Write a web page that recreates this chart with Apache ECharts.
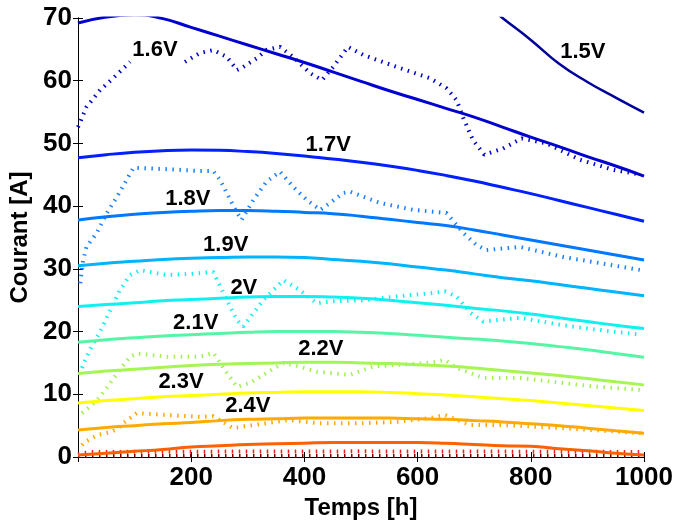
<!DOCTYPE html>
<html>
<head>
<meta charset="utf-8">
<script src="https://cdn.jsdelivr.net/npm/echarts@6/dist/echarts.min.js"></script>
<style>
html,body{margin:0;padding:0;background:#fff;}
#chart{width:675px;height:521px;}
</style>
</head>
<body>
<div id="chart"></div>
<script>
// ---- data ----
var xTicks = [0, 200, 400, 600, 800, 1000];
var yTicks = [0, 10, 20, 30, 40, 50, 60, 70];
var hours = [0, 50, 100, 150, 200, 250, 300, 350, 400, 450, 500, 550, 600, 650, 700, 750, 800, 850, 900, 950, 1000];

// solid model curves (Courant [A]) at the hours above
var v15 = [[740, 70.8], [750, 70.0], [800, 66.5], [850, 62.7], [900, 59.8], [950, 57.3], [1000, 54.9]];
var v16 = [69.2, 70.15, 70.5, 69.9, 68.5, 67.1, 65.7, 64.3, 62.9, 61.4, 59.9, 58.4, 57.0, 55.6, 54.2, 52.6, 51.0, 49.5, 47.9, 46.4, 44.8];
var v17 = [47.7, 48.2, 48.6, 48.85, 48.95, 48.9, 48.7, 48.4, 48.0, 47.5, 47.0, 46.4, 45.7, 44.9, 44.0, 43.0, 42.0, 40.9, 39.8, 38.7, 37.6];
var v18 = [37.8, 38.3, 38.7, 39.0, 39.2, 39.3, 39.3, 39.2, 39.0, 38.8, 38.4, 37.9, 37.4, 36.9, 36.2, 35.4, 34.6, 33.8, 33.0, 32.2, 31.4];
var v19 = [30.5, 30.9, 31.2, 31.5, 31.7, 31.8, 31.9, 31.9, 31.8, 31.5, 31.2, 30.8, 30.3, 29.8, 29.2, 28.6, 28.1, 27.5, 26.9, 26.3, 25.7];
var v20 = [24.0, 24.3, 24.6, 24.9, 25.1, 25.3, 25.5, 25.6, 25.6, 25.5, 25.3, 25.0, 24.6, 24.2, 23.7, 23.3, 22.8, 22.2, 21.6, 21.0, 20.5];
var v21 = [18.3, 18.7, 19.0, 19.3, 19.5, 19.7, 19.9, 20.0, 20.0, 20.0, 19.9, 19.7, 19.4, 19.1, 18.8, 18.5, 18.1, 17.6, 17.1, 16.5, 15.9];
var v22 = [13.3, 13.7, 14.0, 14.3, 14.6, 14.8, 14.9, 15.0, 15.1, 15.1, 15.0, 14.9, 14.7, 14.5, 14.2, 13.8, 13.4, 13.0, 12.5, 12.0, 11.5];
var v23 = [8.6, 9.0, 9.3, 9.6, 9.8, 10.0, 10.2, 10.3, 10.4, 10.4, 10.4, 10.3, 10.1, 9.9, 9.6, 9.3, 9.0, 8.6, 8.2, 7.8, 7.4];
var v24 = [4.3, 4.7, 5.0, 5.3, 5.5, 5.8, 6.0, 6.1, 6.2, 6.2, 6.2, 6.2, 6.1, 6.0, 5.8, 5.6, 5.3, 5.0, 4.6, 4.2, 3.8];
var v25 = [0.3, 0.6, 0.9, 1.2, 1.6, 1.8, 2.0, 2.1, 2.2, 2.3, 2.3, 2.3, 2.3, 2.2, 2.0, 1.8, 1.7, 1.3, 1.0, 0.6, 0.3];

// dotted measured curves [hours, current]
var m16 = [[0, 52.6], [15, 55.8], [39, 58.5], [62, 60.4], [92, 63.0], [140, '-'], [189, 63.0], [215, 64.4], [239, 64.9], [263, 63.8], [281, 61.7], [292, 62.2], [316, 63.6], [333, 64.9], [357, 65.4], [380, 63.8], [410, 61.2], [431, 60.1], [451, 62.2], [477, 65.4], [504, 64.1], [563, 62.2], [622, 60.4], [651, 58.8], [669, 56.9], [681, 54.0], [698, 50.5], [718, 48.2], [751, 49.2], [784, 50.8], [828, 50.0], [887, 47.4], [945, 45.8], [995, 45.0]];
var m18 = [[4, 27.7], [9, 31.4], [15, 33.5], [33, 35.7], [51, 38.9], [69, 41.5], [86, 44.2], [98, 46.1], [157, 45.9], [216, 45.6], [239, 45.6], [251, 44.2], [269, 41.0], [280, 39.1], [289, 37.8], [310, 41.0], [333, 43.9], [357, 45.5], [380, 43.1], [404, 41.0], [428, 39.4], [445, 40.5], [469, 42.1], [481, 42.3], [534, 40.5], [593, 39.4], [651, 38.9], [681, 35.7], [704, 33.8], [722, 33.0], [781, 33.5], [857, 31.9], [995, 29.8]];
var m20 = [[7, 14.2], [21, 17.1], [39, 20.0], [57, 23.4], [74, 26.6], [92, 29.0], [110, 29.8], [157, 29.0], [216, 29.3], [239, 29.5], [263, 25.0], [281, 21.8], [292, 20.8], [327, 25.0], [363, 28.2], [392, 26.6], [422, 24.5], [445, 24.8], [504, 25.0], [563, 25.6], [622, 26.1], [648, 26.4], [669, 25.6], [693, 23.0], [716, 21.6], [781, 22.2], [857, 21.0], [916, 20.3], [995, 19.5]];
var m22 = [[7, 7.0], [21, 8.0], [39, 9.6], [57, 11.8], [74, 13.9], [92, 16.0], [104, 16.5], [157, 16.0], [216, 16.0], [239, 16.6], [263, 13.4], [281, 11.2], [304, 11.8], [333, 13.4], [363, 15.0], [392, 14.4], [422, 13.6], [445, 13.4], [480, 13.1], [521, 14.4], [563, 14.7], [622, 15.0], [648, 15.5], [669, 14.2], [693, 13.4], [716, 12.6], [781, 12.6], [857, 11.8], [916, 11.2], [995, 10.7]];
var m24 = [[7, 1.9], [12, 2.4], [35, 3.5], [59, 4.0], [71, 4.6], [80, 5.4], [104, 7.0], [157, 6.7], [216, 6.4], [239, 6.5], [274, 4.6], [333, 5.4], [374, 5.9], [422, 5.4], [445, 5.4], [504, 5.4], [563, 5.6], [622, 6.2], [648, 6.7], [693, 5.1], [752, 5.1], [857, 4.6], [995, 3.8]];
var m26 = [[0, 0.4], [20, 0.8], [200, 0.85], [500, 0.9], [800, 0.85], [1000, 0.8]];
var m27 = [[0, 0.15], [1000, 0.15]];

// contour labels [hours, current, text]
var contourLabels = [[892, 64.6, '1.5V'], [136, 64.9, '1.6V'], [442, 49.7, '1.7V'], [194, 41.1, '1.8V'], [261, 33.8, '1.9V'], [293, 27.0, '2V'], [208, 21.4, '2.1V'], [429, 17.2, '2.2V'], [182, 12.0, '2.3V'], [300, 8.1, '2.4V']];

// ---- build ----
function pairs(xs, ys) { return xs.map(function (x, i) { return [x, ys[i]]; }); }
var font = '"Liberation Sans", Arial, Helvetica, sans-serif';

function solid(data, color, w) {
  return { type: 'line', data: data, smooth: true, showSymbol: false, symbol: 'none', clip: true,
    lineStyle: { color: color, width: w || 3 }, z: 3, silent: true };
}
function dotted(data, color) {
  return { type: 'line', data: data, smooth: false, showSymbol: false, symbol: 'none', clip: true, connectNulls: false,
    lineStyle: { color: color, width: 4, type: [1.5, 5.5], cap: 'butt' }, z: 2, silent: true };
}

var series = [
  dotted(m27, '#800000'),
  dotted(m26, '#ff1a1a'),
  dotted(m24, '#ffa500'),
  dotted(m22, '#a0f050'),
  dotted(m20, '#10eef0'),
  dotted(m18, '#1a80ff'),
  dotted(m16, '#0000d0'),
  solid(v15, '#00009a', 2.5),
  solid(pairs(hours, v16), '#0000d0'),
  solid(pairs(hours, v17), '#0020ff'),
  solid(pairs(hours, v18), '#0078ff'),
  solid(pairs(hours, v19), '#00b4ff'),
  solid(pairs(hours, v20), '#10f0f0'),
  solid(pairs(hours, v21), '#55f5a5'),
  solid(pairs(hours, v22), '#a5f555'),
  solid(pairs(hours, v23), '#ffff00'),
  solid(pairs(hours, v24), '#ffaa00'),
  solid(pairs(hours, v25), '#ff6000'),
  { type: 'scatter', data: contourLabels, symbolSize: 1, z: 5, silent: true,
    itemStyle: { color: 'rgba(0,0,0,0)' },
    label: { show: true, position: 'inside', formatter: function (p) { return p.data[2]; },
      color: '#000', opacity: 1, textBorderWidth: 0, textShadowBlur: 0,
      fontSize: 22, fontWeight: 'bold', fontFamily: font } }
];

var axisLineStyle = { show: true, lineStyle: { color: '#000', width: 1 } };
var chart = echarts.init(document.getElementById('chart'), null, { renderer: 'canvas' });
chart.setOption({
  animation: false,
  backgroundColor: '#fff',
  grid: { left: 78, right: 31, top: 18, bottom: 64, outerBoundsMode: 'none', containLabel: false },
  xAxis: [
    { type: 'value', min: xTicks[0], max: xTicks[xTicks.length - 1], interval: 200, position: 'bottom',
      name: 'Temps [h]', nameLocation: 'middle', nameGap: 39,
      nameTextStyle: { fontSize: 24, fontWeight: 'bold', color: '#000', fontFamily: font },
      axisLine: axisLineStyle, splitLine: { show: false },
      axisTick: { show: true, inside: true, length: 5, lineStyle: { color: '#000' } },
      axisLabel: { show: true, margin: 8, fontSize: 26, fontWeight: 'bold', color: '#000', fontFamily: font,
        showMinLabel: true, showMaxLabel: true,
        formatter: function (v) { return v === 0 ? '' : String(v); } } },
    { type: 'value', min: xTicks[0], max: xTicks[xTicks.length - 1], interval: 200, position: 'top',
      axisLine: axisLineStyle, splitLine: { show: false },
      axisTick: { show: true, inside: true, length: 5, lineStyle: { color: '#000' } },
      axisLabel: { show: false } }
  ],
  yAxis: [
    { type: 'value', min: yTicks[0], max: yTicks[yTicks.length - 1], interval: 10, position: 'left',
      name: 'Courant [A]', nameLocation: 'middle', nameGap: 46,
      nameTextStyle: { fontSize: 24, fontWeight: 'bold', color: '#000', fontFamily: font },
      axisLine: axisLineStyle, splitLine: { show: false },
      axisTick: { show: true, inside: true, length: 5, lineStyle: { color: '#000' } },
      axisLabel: { show: true, margin: 6, fontSize: 26, fontWeight: 'bold', color: '#000', fontFamily: font,
        showMinLabel: true, showMaxLabel: true } },
    { type: 'value', min: yTicks[0], max: yTicks[yTicks.length - 1], interval: 10, position: 'right',
      axisLine: axisLineStyle, splitLine: { show: false },
      axisTick: { show: true, inside: true, length: 5, lineStyle: { color: '#000' } },
      axisLabel: { show: false } }
  ],
  series: series
});
</script>
</body>
</html>
